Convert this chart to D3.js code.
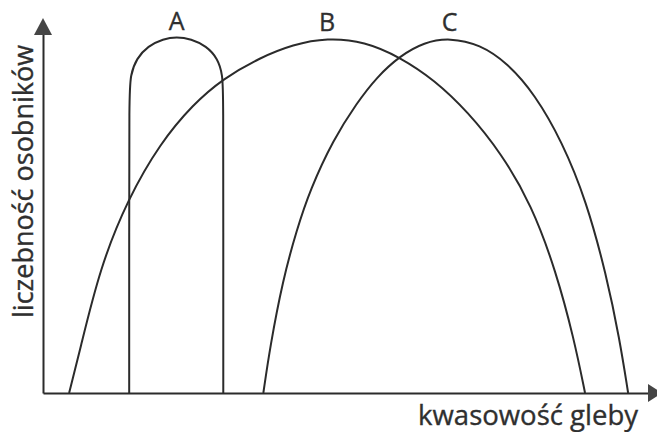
<!DOCTYPE html>
<html>
<head>
<meta charset="utf-8">
<script src="https://cdn.jsdelivr.net/npm/d3@7"></script>
<style>
  body { margin: 0; background: #fff; }
  svg { display: block; }
  text { font-family: "Open Sans", "Noto Sans", sans-serif; fill: #2f2f2f; stroke: #2f2f2f; stroke-width: 0.35px; }
</style>
</head>
<body>
<div id="chart"></div>
<script>
// curve names and points (x = soil acidity, y = number of individuals, 0-100 scale)
var seriesNames = ["A", "B", "C"];

var curveA = [[14.2, 0], [14.2, 0], [14.2, 45], [14.2, 80], [14.4, 86], [15.4, 90.4], [17.3, 93.8], [19.8, 95.7],
    [22, 96.3], [24.4, 95.7], [26.9, 93.8], [28.8, 90.4], [29.6, 86], [29.7, 80], [29.7, 45], [29.7, 0], [29.7, 0]];

var curveB = [[4.3, 0], [6.0, 11.0], [9.4, 34.0], [14.0, 52.5], [19.3, 67.5], [24.7, 78.0], [29.7, 85.0],
    [35.7, 90.6], [41.2, 94.2], [46.8, 96.0], [53.0, 95.0], [58.8, 90.8], [64.5, 84.6], [70.0, 76.0],
    [75.5, 64.8], [80.5, 50.8], [84.5, 33.0], [87.5, 14.5], [89.3, 0]];

var curveC = [[36.3, 0], [37.4, 12.4], [39.5, 30.5], [41.8, 44.1], [44.0, 54.9], [47.8, 68.4], [51.7, 78.4],
    [55.0, 85.4], [58.8, 91.1], [62.8, 94.8], [67.0, 96.0], [72.0, 94.2], [76.5, 89.2], [81.0, 80.8],
    [85.5, 68.0], [89.5, 52.0], [92.8, 32.0], [95.0, 14.5], [96.4, 0]];

var xLabel = "kwasowość gleby";
var yLabel = "liczebność osobników";

var svgWidth = 657;
var svgHeight = 432;
var ink = "#2b2b2b";

var svg = d3.select("#chart")
    .append("svg")
    .attr("width", svgWidth)
    .attr("height", svgHeight);

var xScale = d3.scaleLinear().domain([0, 100]).range([43, 650]);
var yScale = d3.scaleLinear().domain([0, 100]).range([393, 23]);

// axes: only the lines, no ticks
var xAxis = svg.append("g")
    .attr("transform", `translate(0, ${yScale(0)})`)
    .call(d3.axisBottom(xScale).ticks(0).tickSizeOuter(0));

var yAxis = svg.append("g")
    .attr("transform", `translate(${xScale(0)}, 0)`)
    .call(d3.axisLeft(yScale).ticks(0).tickSizeOuter(0));

svg.selectAll(".domain")
    .attr("stroke", ink)
    .attr("stroke-width", 2);

// arrow heads
var x0 = xScale(0), y0 = yScale(0);
svg.append("path")
    .attr("d", `M${x0 - 9},${y0 - 358} L${x0 + 9},${y0 - 358} L${x0},${y0 - 375} Z`)
    .attr("fill", "#454545");

svg.append("path")
    .attr("d", `M${xScale(100) - 2},${y0 - 9} L${xScale(100) - 2},${y0 + 9} L${xScale(100) + 12},${y0} Z`)
    .attr("fill", "#454545");

// curves
var line = d3.line()
    .x(d => xScale(d[0]))
    .y(d => yScale(d[1]))
    .curve(d3.curveBasis);

var curves = [curveA, curveB, curveC];

svg.selectAll(".curve")
    .data(curves)
    .enter()
    .append("path")
    .attr("class", "curve")
    .attr("d", line)
    .attr("fill", "none")
    .attr("stroke", ink)
    .attr("stroke-width", 2);

// curve labels above each peak
svg.selectAll(".name")
    .data(curves)
    .enter()
    .append("text")
    .attr("class", "name")
    .attr("x", d => xScale(d3.greatest(d, p => p[1])[0]))
    .attr("y", d => yScale(d3.max(d, p => p[1])) - 7)
    .attr("text-anchor", "middle")
    .attr("font-size", "25px")
    .text((d, i) => seriesNames[i]);

// axis titles
svg.append("text")
    .attr("x", 638)
    .attr("y", 425)
    .attr("text-anchor", "end")
    .attr("font-size", "27.5px")
    .text(xLabel);

svg.append("text")
    .attr("transform", "translate(33, 318) rotate(-90)")
    .attr("text-anchor", "start")
    .attr("font-size", "27px")
    .text(yLabel);
</script>
</body>
</html>
